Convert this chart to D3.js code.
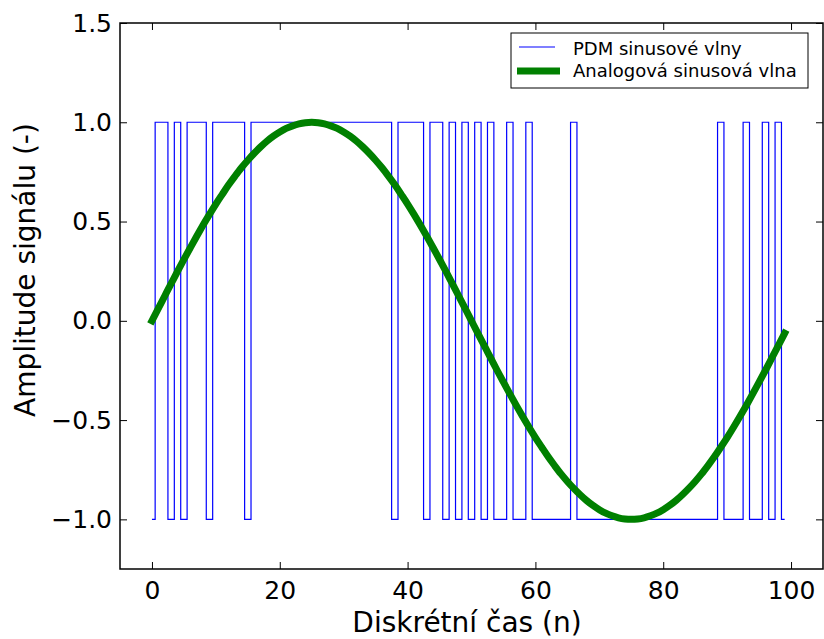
<!DOCTYPE html>
<html>
<head>
<meta charset="utf-8">
<script src="https://cdn.jsdelivr.net/npm/d3@7"></script>
<style>
  body { margin: 0; background: #fff; }
  text { font-family: "DejaVu Sans", sans-serif; }
</style>
</head>
<body>
<div id="chart"></div>
<script>
// PDM output, one value per sample n = 0..99
var pdm = [
  -1, 1, 1, -1, 1, -1, 1, 1, 1, -1,
   1, 1, 1, 1, 1, -1, 1, 1, 1, 1,
   1, 1, 1, 1, 1, 1, 1, 1, 1, 1,
   1, 1, 1, 1, 1, 1, 1, 1, -1, 1,
   1, 1, 1, -1, 1, 1, -1, 1, -1, 1,
  -1, 1, -1, 1, -1, -1, 1, -1, -1, 1,
  -1, -1, -1, -1, -1, -1, 1, -1, -1, -1,
  -1, -1, -1, -1, -1, -1, -1, -1, -1, -1,
  -1, -1, -1, -1, -1, -1, -1, -1, -1, 1,
  -1, -1, -1, 1, -1, -1, 1, -1, 1, -1
];

// analog sine wave, one value per sample n = 0..99
var analog = [
  0.000, 0.063, 0.125, 0.187, 0.249, 0.309, 0.368, 0.426, 0.482, 0.536,
  0.588, 0.637, 0.685, 0.729, 0.771, 0.809, 0.844, 0.876, 0.905, 0.930,
  0.951, 0.969, 0.982, 0.992, 0.998, 1.000, 0.998, 0.992, 0.982, 0.969,
  0.951, 0.930, 0.905, 0.876, 0.844, 0.809, 0.771, 0.729, 0.685, 0.637,
  0.588, 0.536, 0.482, 0.426, 0.368, 0.309, 0.249, 0.187, 0.125, 0.063,
  0.000, -0.063, -0.125, -0.187, -0.249, -0.309, -0.368, -0.426, -0.482, -0.536,
  -0.588, -0.637, -0.685, -0.729, -0.771, -0.809, -0.844, -0.876, -0.905, -0.930,
  -0.951, -0.969, -0.982, -0.992, -0.998, -1.000, -0.998, -0.992, -0.982, -0.969,
  -0.951, -0.930, -0.905, -0.876, -0.844, -0.809, -0.771, -0.729, -0.685, -0.637,
  -0.588, -0.536, -0.482, -0.426, -0.368, -0.309, -0.249, -0.187, -0.125, -0.063
];

var xTicks = [0, 20, 40, 60, 80, 100];
var yTicks = [-1.0, -0.5, 0.0, 0.5, 1.0, 1.5];
var seriesNames = ["PDM sinusové vlny", "Analogová sinusová vlna"];

var margin = { top: 23, right: 1, bottom: 70, left: 120 },
    width = 824 - margin.left - margin.right,
    height = 639 - margin.top - margin.bottom;

var svg = d3.select("#chart").append("svg")
    .attr("width", 824)
    .attr("height", 639);

var g = svg.append("g")
    .attr("transform", "translate(" + margin.left + "," + margin.top + ")");

var x = d3.scaleLinear().domain([-5, 105]).range([0, width]);
var y = d3.scaleLinear().domain([-1.25, 1.5]).range([height, 0]);

var fmtY = function (d) { return d3.format(".1f")(d).replace("-", "\u2212"); };

// axes, ticks pointing inwards like old matplotlib
var tickLen = 7;
g.append("g")
    .attr("transform", "translate(0," + height + ")")
    .call(d3.axisBottom(x).tickValues(xTicks).tickSizeInner(-tickLen).tickSizeOuter(0).tickPadding(12))
    .call(function (a) {
        a.select(".domain").remove();
        a.selectAll("text").attr("font-size", 25).attr("fill", "#000").attr("font-family", "DejaVu Sans");
    });
g.append("g")
    .call(d3.axisTop(x).tickValues(xTicks).tickSizeInner(-tickLen).tickSizeOuter(0).tickFormat(""))
    .call(function (a) { a.select(".domain").remove(); });
g.append("g")
    .call(d3.axisLeft(y).tickValues(yTicks).tickSizeInner(-tickLen).tickSizeOuter(0).tickPadding(8).tickFormat(fmtY))
    .call(function (a) {
        a.select(".domain").remove();
        a.selectAll("text").attr("font-size", 25).attr("fill", "#000").attr("font-family", "DejaVu Sans");
    });
g.append("g")
    .attr("transform", "translate(" + width + ",0)")
    .call(d3.axisRight(y).tickValues(yTicks).tickSizeInner(-tickLen).tickSizeOuter(0).tickFormat(""))
    .call(function (a) { a.select(".domain").remove(); });

// PDM step line (steps centred on the samples)
var stepLine = d3.line()
    .x(function (d, i) { return x(i); })
    .y(function (d) { return y(d); })
    .curve(d3.curveStep);

g.append("path")
    .datum(pdm)
    .attr("fill", "none")
    .attr("stroke", "#0000ff")
    .attr("stroke-width", 1.2)
    .attr("d", stepLine);

// analog sine
var smooth = d3.line()
    .x(function (d, i) { return x(i); })
    .y(function (d) { return y(d); })
    .curve(d3.curveMonotoneX);

g.append("path")
    .datum(analog)
    .attr("fill", "none")
    .attr("stroke", "#008000")
    .attr("stroke-width", 7)
    .attr("stroke-linecap", "square")
    .attr("d", smooth);

// frame
g.append("rect")
    .attr("width", width)
    .attr("height", height)
    .attr("fill", "none")
    .attr("stroke", "#000")
    .attr("stroke-width", 1.5);

// legend
var leg = svg.append("g").attr("transform", "translate(511,33)");
leg.append("rect")
    .attr("width", 297)
    .attr("height", 55)
    .attr("fill", "#fff")
    .attr("stroke", "#000")
    .attr("stroke-width", 1);
leg.append("line").attr("x1", 8).attr("x2", 44).attr("y1", 14).attr("y2", 14)
    .attr("stroke", "#0000ff").attr("stroke-width", 1.2);
leg.append("line").attr("x1", 6).attr("x2", 49).attr("y1", 38).attr("y2", 38)
    .attr("stroke", "#008000").attr("stroke-width", 7);
leg.selectAll("text.lbl")
    .data(seriesNames)
    .enter().append("text")
    .attr("class", "lbl")
    .attr("x", 62)
    .attr("y", function (d, i) { return 22 + i * 22; })
    .attr("font-size", 18)
    .text(function (d) { return d; });

// axis titles
svg.append("text")
    .attr("x", 467)
    .attr("y", 632)
    .attr("text-anchor", "middle")
    .attr("font-size", 28)
    .text("Diskrétní čas (n)");

svg.append("text")
    .attr("transform", "translate(35,270) rotate(-90)")
    .attr("text-anchor", "middle")
    .attr("font-size", 28)
    .text("Amplitude signálu (-)");
</script>
</body>
</html>
